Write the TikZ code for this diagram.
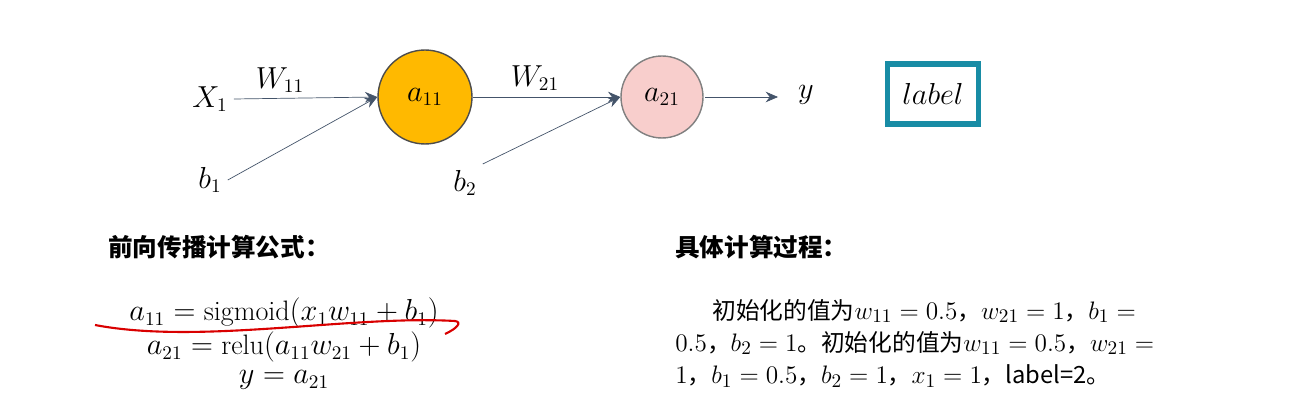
\documentclass[tikz,border=0pt]{standalone}
\usepackage{fontspec}
\usepackage{amsmath}
\newfontfamily\cjk{Noto Sans CJK SC}
\usetikzlibrary{arrows.meta}
\newcommand\mm[1]{{\fontsize{15.5}{18}\selectfont$#1$}}
\begin{document}
\begin{tikzpicture}[x=0.02cm,y=-0.02cm,
  lbl/.style={font=\fontsize{16}{18}\selectfont},
  eq/.style={font=\fontsize{16}{18}\selectfont,inner sep=0pt},
  arr/.style={draw={rgb,255:red,68;green,84;blue,106},-{Stealth[length=7pt,width=6pt]}},
  txt/.style={font=\fontsize{13.5}{15}\selectfont\cjk,anchor=west,inner sep=0}]
\useasboundingbox (0,0) rectangle (1313,412);
\node[lbl] (x1) at (210,99) {$X_1$};
\node[lbl] (b1) at (210,180) {$b_1$};
\node[circle,minimum size=1.88cm,fill={rgb,255:red,255;green,185;blue,0},draw=black!70,line width=0.8pt] (a11) at (425,97) {};
\node[lbl] at (a11) {$a_{11}$};
\node[circle,minimum size=1.64cm,fill={rgb,255:red,248;green,206;blue,204},draw=black!50,line width=0.8pt] (a21) at (662,97) {};
\node[lbl] at (a21) {$a_{21}$};
\node[lbl] (w11) at (280,80) {$W_{11}$};
\node[lbl] (w21) at (535,78) {$W_{21}$};
\node[lbl] (b2) at (465,183) {$b_2$};
\node[lbl] (y) at (806,95) {$y$};
\coordinate (yin) at (778,97);
\coordinate (yout) at (705,97);
\draw[arr] (x1.east) -- (a11.west);
\draw[arr] (b1.east) -- (a11.west);
\draw[arr] (a11.east) -- (a21.west);
\draw[arr] (b2.north east) -- (a21.west);
\draw[arr] (yout) -- (yin);
\node[draw={rgb,255:red,24;green,140;blue,165},line width=3pt,minimum width=1.82cm,minimum height=1.2cm] (lab) at (933,94) {\fontsize{16}{18}\selectfont$label$};
\node[txt,font=\fontsize{14}{16}\selectfont\cjk\bfseries] (h1) at (108,247) {前向传播计算公式：};
\node[txt,font=\fontsize{14}{16}\selectfont\cjk\bfseries] (h2) at (675,247) {具体计算过程：};
\node[eq] (e1) at (284,313) {$a_{11}=\mathrm{sigmoid}(x_1w_{11}+b_1)$};
\node[eq] (e2) at (284,347) {$a_{21}=\mathrm{relu}(a_{11}w_{21}+b_1)$};
\node[eq] (e3) at (284,380) {$y=a_{21}$};
\draw[red!85!black,line width=1.2pt] (95,325) .. controls (200,345) and (350,315) .. (455,321) .. controls (462,322) and (458,328) .. (445,334);
\node[txt] (p1) at (712,311) {初始化的值为\mm{w_{11}=0.5}，\mm{w_{21}=1}，\mm{b_1=}};
\node[txt] (p2) at (675,343) {\mm{0.5}，\mm{b_2=1}。初始化的值为\mm{w_{11}=0.5}，\mm{w_{21}=}};
\node[txt] (p3) at (675,376) {\mm{1}，\mm{b_1=0.5}，\mm{b_2=1}，\mm{x_1=1}，label=2。};
\end{tikzpicture}
\end{document}
